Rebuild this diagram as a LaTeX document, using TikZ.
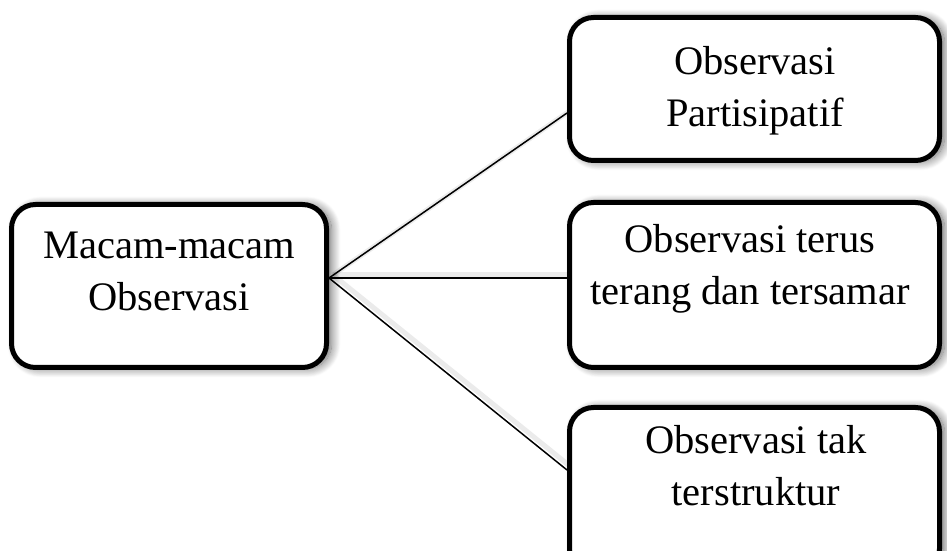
\documentclass[tikz,border=0pt]{standalone}
\usepackage{fontspec}
\setmainfont{Liberation Serif}
\usetikzlibrary{shadows.blur}

\tikzset{
  box/.style={draw=black, line width=5pt, rounded corners=24pt, fill=white,
    inner sep=0pt,
    blur shadow={shadow xshift=5pt, shadow yshift=-1pt, shadow blur radius=9pt,
      shadow blur steps=14, shadow opacity=60}},
  label text/.style={inner sep=0pt, align=center,
    font=\fontsize{40.5pt}{52pt}\selectfont},
  link/.style={draw=black, line width=1.5pt},
  link shadow/.style={draw=black, line width=5pt, opacity=0.08},
}

\begin{document}
\begin{tikzpicture}[x=1pt, y=1pt]
\useasboundingbox (0,0) rectangle (947,551);

% connector shadows (drawn first, under everything)
\coordinate (src) at (329,273);
\coordinate (tEnd) at (567,438);
\coordinate (mEnd) at (567,273);
\coordinate (bEnd) at (567,81);
\draw[link shadow] ([shift={(4pt,3pt)}]src) -- ([shift={(4pt,3pt)}]tEnd);
\draw[link shadow] ([shift={(4pt,3pt)}]src) -- ([shift={(4pt,3pt)}]mEnd);
\draw[link shadow] ([shift={(4pt,3pt)}]src) -- ([shift={(4pt,3pt)}]bEnd);

% boxes
\node[box, minimum width=315pt, minimum height=163pt] (L) at (169,265) {};
\node[box, minimum width=370pt, minimum height=143pt] (T) at (754.5,462) {};
\node[box, minimum width=370pt, minimum height=165pt] (M) at (754.5,266) {};
\node[box, minimum width=370pt, minimum height=165pt] (B) at (754.5,61) {};

% texts
\node[label text] (Lt) at (169,280) {Macam-macam\\Observasi};
\node[label text] (Tt) at (755,460) {Observasi\\Partisipatif};
\node[label text] (Mt) at (750,282) {Observasi terus\\terang dan tersamar};
\node[label text] (Bt) at (756,85) {Observasi tak\\terstruktur};

% connectors
\draw[link] ([yshift=8pt]L.east) -- ([yshift=-24pt]T.west);
\draw[link] ([yshift=8pt]L.east) -- ([yshift=7pt]M.west);
\draw[link] ([yshift=8pt]L.east) -- ([yshift=20pt]B.west);
\end{tikzpicture}
\end{document}
